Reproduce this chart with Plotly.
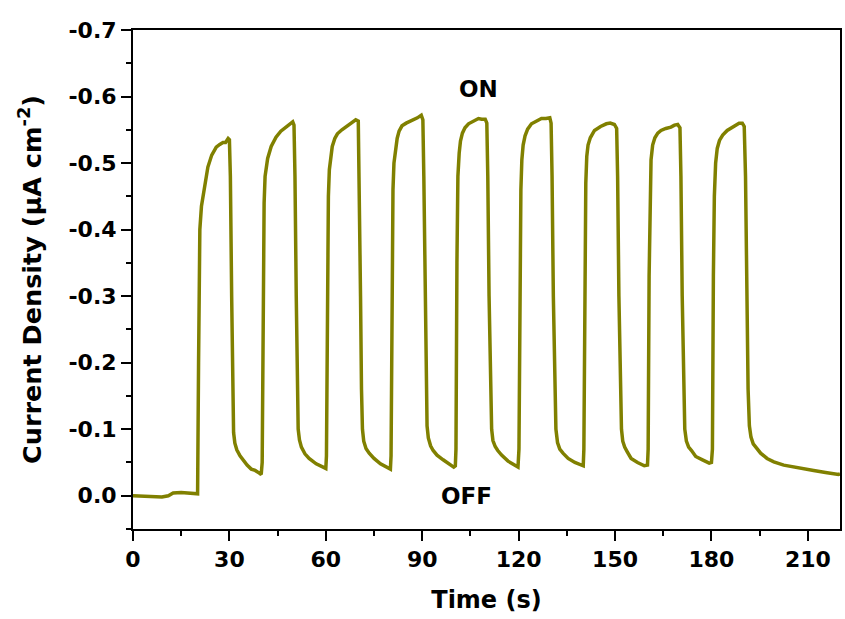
import plotly.graph_objects as go

# Time (s) and current density (µA cm^-2)
time_s = [
    # dark baseline
    0, 3, 6, 9, 11, 12.5, 15, 17, 19.8,
    # cycle 1
    20.1, 20.4, 20.8, 21.3, 21.8, 22.5, 23.3, 24.5, 25.9, 27.0, 28.0, 28.8, 29.6, 30.0,
    30.3, 30.7, 31.0, 31.3, 31.7, 32.3, 33.3, 34.2, 35.5, 36.8, 38.0, 39.3, 39.9,
    # cycle 2
    40.2, 40.5, 40.8, 41.1, 41.5, 41.9, 43.0, 44.5, 46.0, 47.6, 48.8, 49.7, 50.1,
    50.4, 50.8, 51.1, 51.4, 51.8, 52.4, 53.5, 54.8, 57.0, 59.5, 60.0,
    # cycle 3
    60.2, 60.5, 60.8, 61.1, 61.5, 62.0, 62.8, 63.6, 65.0, 66.2, 68.0, 69.3, 70.1,
    70.4, 70.8, 71.1, 71.4, 71.8, 72.5, 73.5, 75.0, 77.0, 79.1, 80.1,
    # cycle 4
    80.3, 80.6, 80.9, 81.2, 81.7, 82.2, 82.8, 83.7, 85.0, 86.8, 88.5, 89.7, 90.2,
    90.5, 90.9, 91.2, 91.5, 91.9, 92.6, 93.4, 94.6, 96.5, 98.2, 99.8, 100.3,
    # cycle 5
    100.5, 100.8, 101.1, 101.5, 101.9, 102.5, 103.3, 104.4, 106.0, 107.5, 108.5, 109.6, 110.1,
    110.4, 110.8, 111.2, 111.6, 112.0, 112.7, 113.5, 114.7, 116.7, 118.8, 119.8,
    # cycle 6
    120.1, 120.4, 120.7, 121.0, 121.4, 122.0, 122.8, 124.0, 125.5, 127.1, 128.5, 129.7, 130.1,
    130.4, 130.8, 131.2, 131.6, 132.1, 132.8, 133.8, 135.4, 137.5, 139.5, 140.1,
    # cycle 7
    140.3, 140.6, 140.9, 141.2, 141.6, 142.3, 143.6, 145.5, 147.3, 148.5, 149.8, 150.5,
    150.8, 151.2, 151.6, 152.0, 152.4, 153.0, 153.8, 155.0, 157.0, 159.1, 160.1,
    # cycle 8
    160.3, 160.6, 160.9, 161.2, 161.7, 162.4, 163.3, 164.3, 165.8, 167.4, 168.5, 169.5, 170.2,
    170.5, 170.9, 171.3, 171.7, 172.2, 172.9, 173.8, 175.1, 177.2, 179.3, 180.0,
    # cycle 9 and final decay
    180.3, 180.6, 180.9, 181.3, 181.8, 182.5, 183.5, 184.9, 186.8, 188.6, 189.6, 190.2,
    190.6, 191.0, 191.4, 191.8, 192.3, 193.0, 194.0, 195.3, 197.3, 199.4, 202.5, 205.6,
    208.5, 211.8, 215.5, 219.5, 220.0,
]
current_density = [
    # dark baseline
    0.000, 0.001, 0.001, 0.002, 0.000, -0.004, -0.005, -0.004, -0.003,
    # cycle 1
    -0.003, -0.20, -0.40, -0.435, -0.452, -0.475, -0.494, -0.512, -0.524, -0.528, -0.531, -0.531, -0.537, -0.535,
    -0.48, -0.30, -0.15, -0.095, -0.079, -0.069, -0.060, -0.054, -0.046, -0.040, -0.038, -0.034, -0.032,
    # cycle 2
    -0.05, -0.30, -0.44, -0.48, -0.497, -0.507, -0.525, -0.539, -0.548, -0.554, -0.557, -0.562, -0.557,
    -0.48, -0.30, -0.16, -0.10, -0.084, -0.073, -0.063, -0.056, -0.048, -0.043, -0.041,
    # cycle 3
    -0.06, -0.30, -0.45, -0.49, -0.511, -0.525, -0.537, -0.544, -0.550, -0.554, -0.561, -0.565, -0.563,
    -0.48, -0.30, -0.16, -0.10, -0.082, -0.071, -0.064, -0.056, -0.048, -0.043, -0.040,
    # cycle 4
    -0.06, -0.30, -0.46, -0.50, -0.522, -0.537, -0.548, -0.556, -0.560, -0.564, -0.568, -0.572, -0.565,
    -0.48, -0.30, -0.16, -0.105, -0.087, -0.075, -0.068, -0.061, -0.054, -0.049, -0.043, -0.045,
    # cycle 5
    -0.07, -0.35, -0.48, -0.515, -0.533, -0.545, -0.553, -0.559, -0.563, -0.567, -0.566, -0.566, -0.560,
    -0.48, -0.30, -0.16, -0.10, -0.083, -0.074, -0.068, -0.061, -0.052, -0.045, -0.043,
    # cycle 6
    -0.07, -0.33, -0.46, -0.505, -0.527, -0.541, -0.551, -0.559, -0.563, -0.567, -0.567, -0.568, -0.560,
    -0.48, -0.30, -0.16, -0.10, -0.080, -0.070, -0.064, -0.056, -0.050, -0.046, -0.045,
    # cycle 7
    -0.07, -0.33, -0.47, -0.51, -0.527, -0.538, -0.549, -0.555, -0.559, -0.560, -0.558, -0.552,
    -0.48, -0.30, -0.16, -0.10, -0.082, -0.073, -0.066, -0.056, -0.050, -0.045, -0.046,
    # cycle 8
    -0.07, -0.33, -0.46, -0.505, -0.527, -0.538, -0.545, -0.549, -0.552, -0.554, -0.557, -0.558, -0.553,
    -0.48, -0.30, -0.16, -0.10, -0.082, -0.073, -0.068, -0.059, -0.054, -0.049, -0.050,
    # cycle 9 and final decay
    -0.07, -0.33, -0.45, -0.50, -0.522, -0.534, -0.542, -0.549, -0.555, -0.560, -0.560, -0.555,
    -0.48, -0.30, -0.16, -0.105, -0.088, -0.078, -0.072, -0.064, -0.056, -0.051, -0.046, -0.043,
    -0.041, -0.038, -0.035, -0.032, -0.033,
]

x_ticks = [0, 30, 60, 90, 120, 150, 180, 210]
y_ticks = [0.0, -0.1, -0.2, -0.3, -0.4, -0.5, -0.6, -0.7]

FONT = "DejaVu Sans, Liberation Sans, Arial, sans-serif"

fig = go.Figure()
fig.add_trace(go.Scatter(
    x=time_s, y=current_density, mode="lines",
    line=dict(color="#808000", width=3.5),
    showlegend=False,
))

fig.add_annotation(x=107.5, y=-0.612, text="<b>ON</b>", showarrow=False,
                   font=dict(family=FONT, size=23, color="black"))
fig.add_annotation(x=103.8, y=0.001, text="<b>OFF</b>", showarrow=False,
                   font=dict(family=FONT, size=23, color="black"))

fig.update_xaxes(
    range=[0, 220], tickvals=x_ticks, ticktext=[f"<b>{v}</b>" for v in x_ticks],
    ticks="outside", ticklen=10, tickwidth=2, tickcolor="black",
    minor=dict(dtick=15, ticks="outside", ticklen=5, tickwidth=2, tickcolor="black"),
    showline=True, linecolor="black", linewidth=2, mirror=True,
    showgrid=False, zeroline=False,
    tickfont=dict(family=FONT, size=22, color="black"),
    title=dict(text="<b>Time (s)</b>", font=dict(family=FONT, size=24, color="black"), standoff=20),
)
fig.update_yaxes(
    range=[0.05, -0.7], tickvals=y_ticks, ticktext=[f"<b>{v:.1f}</b>" for v in y_ticks],
    ticks="outside", ticklen=10, tickwidth=2, tickcolor="black",
    minor=dict(dtick=0.05, ticks="outside", ticklen=5, tickwidth=2, tickcolor="black"),
    showline=True, linecolor="black", linewidth=2, mirror=True,
    showgrid=False, zeroline=False,
    tickfont=dict(family=FONT, size=22, color="black"),
    title=dict(text="<b>Current Density (μA cm<sup>-2</sup>)</b>",
               font=dict(family=FONT, size=25.5, color="black"), standoff=20),
)
fig.update_layout(
    width=845, height=619,
    margin=dict(l=133, r=3, t=30, b=90),
    paper_bgcolor="white", plot_bgcolor="white",
)
fig.write_html("out.html", config={"displayModeBar": False},
               post_script="document.body.style.margin='0';document.body.style.overflow='hidden';")
